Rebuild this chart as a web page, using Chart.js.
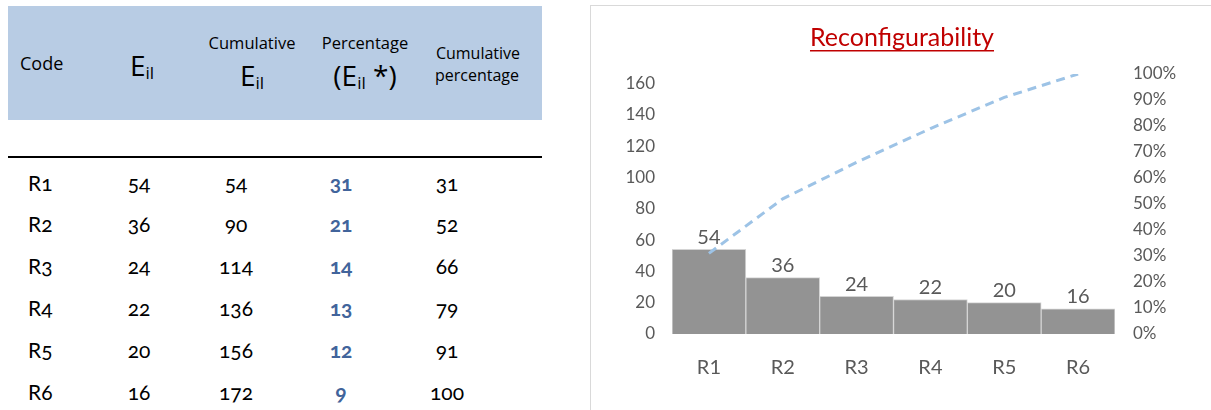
<!DOCTYPE html>
<html>
<head>
<meta charset="utf-8">
<script src="https://cdn.jsdelivr.net/npm/chart.js@4.4.1/dist/chart.umd.min.js"></script>
<style>
  html, body { margin: 0; padding: 0; background: #fff; }
  body { width: 1211px; height: 410px; position: relative; overflow: hidden; }
  .band { position: absolute; left: 8px; top: 6px; width: 534px; height: 114px; background: #b8cce4; }
  .rule { position: absolute; left: 8px; top: 156px; width: 534px; height: 2px; background: #000; }
  .t { position: absolute; white-space: nowrap; line-height: 1; transform: translate(-50%, -50%); color: #000; }
  .hd { font-family: "Open Sans", sans-serif; font-size: 16.5px; }
  .big { font-family: "Open Sans", sans-serif; font-size: 28px; }
  .big sub { font-size: 17px; vertical-align: -3px; }
  .cell { font-family: "Lato", sans-serif; font-size: 21px; font-variant-numeric: oldstyle-nums; }
  .cell.code { transform: translate(0, -50%); }
  .cell.blue { color: #41649b; font-weight: bold; }
  .frame { position: absolute; left: 590px; top: 5px; width: 700px; height: 500px;
           border-left: 1px solid #d9d9d9; border-top: 1px solid #d9d9d9; }
  #chart { position: absolute; left: 591px; top: 6px; }
</style>
</head>
<body>
<div class="band"></div>
<div class="rule"></div>

<div class="t hd" style="left:20px;top:63px;font-size:18px;transform:translate(0,-50%)">Code</div>
<div class="t big" style="left:142px;top:66px">E<sub>il</sub></div>
<div class="t hd" style="left:252px;top:43px">Cumulative</div>
<div class="t big" style="left:252px;top:76px">E<sub>il</sub></div>
<div class="t hd" style="left:365px;top:43px">Percentage</div>
<div class="t big" style="left:365px;top:76px">(E<sub>il</sub> *)</div>
<div class="t hd" style="left:478px;top:53px;font-size:16px">Cumulative</div>
<div class="t hd" style="left:477px;top:75px;font-size:16px">percentage</div>

<div id="rows"></div>

<div class="frame"></div>
<canvas id="chart" width="620" height="404"></canvas>

<script>
// Reconfigurability: index values per code, their running totals and shares
const categories = ['R1', 'R2', 'R3', 'R4', 'R5', 'R6'];
const eil = [54, 36, 24, 22, 20, 16];
const cumulativeEil = [54, 90, 114, 136, 156, 172];
const percentage = [31, 21, 14, 13, 12, 9];
const cumulativePercentage = [31, 52, 66, 79, 91, 100];
const countTicks = [0, 20, 40, 60, 80, 100, 120, 140, 160];
const percentTicks = [0, 10, 20, 30, 40, 50, 60, 70, 80, 90, 100];

// table body
const colX = [28, 139, 236, 341, 447];
const rowY = [182, 223, 265, 307, 349, 391];
const rows = document.getElementById('rows');
categories.forEach((code, i) => {
  const cells = [code, eil[i], cumulativeEil[i], percentage[i], cumulativePercentage[i]];
  cells.forEach((v, c) => {
    const d = document.createElement('div');
    d.className = 't cell' + (c === 0 ? ' code' : '') + (c === 3 ? ' blue' : '');
    d.style.left = colX[c] + 'px';
    d.style.top = rowY[i] + 'px';
    d.textContent = v;
    rows.appendChild(d);
  });
});

const FONT = 'Lato, sans-serif';
const GREY_TEXT = '#595959';

// title with underline and value labels above the bars
const decorations = {
  id: 'decorations',
  afterDatasetsDraw(chart) {
    const ctx = chart.ctx;
    ctx.save();
    // bar values
    const meta = chart.getDatasetMeta(0);
    ctx.font = '20px ' + FONT;
    ctx.fillStyle = GREY_TEXT;
    ctx.textAlign = 'center';
    ctx.textBaseline = 'bottom';
    meta.data.forEach((bar, i) => {
      ctx.fillText(String(chart.data.datasets[0].data[i]), bar.x, bar.y - 2);
    });
    // title
    const title = 'Reconfigurability';
    ctx.font = '25px ' + FONT;
    ctx.fillStyle = '#c00000';
    ctx.textBaseline = 'alphabetic';
    const cx = 311, base = 40;
    ctx.fillText(title, cx, base);
    const w = ctx.measureText(title).width;
    ctx.fillRect(cx - w / 2, base + 4, w, 1.5);
    ctx.restore();
  }
};

new Chart(document.getElementById('chart'), {
  type: 'bar',
  data: {
    labels: categories,
    datasets: [
      {
        type: 'bar',
        data: eil,
        yAxisID: 'y',
        backgroundColor: '#939393',
        borderColor: '#d4d4d4',
        borderWidth: 1,
        borderSkipped: 'bottom',
        barPercentage: 1,
        categoryPercentage: 1,
        order: 2
      },
      {
        type: 'line',
        data: cumulativePercentage,
        yAxisID: 'y2',
        borderColor: '#9dc3e6',
        borderWidth: 3,
        borderDash: [9, 6],
        pointRadius: 0,
        tension: 0,
        fill: false,
        order: 1
      }
    ]
  },
  options: {
    responsive: false,
    animation: false,
    layout: { padding: { top: 68, left: 0, right: 0, bottom: 0 } },
    plugins: { legend: { display: false }, tooltip: { enabled: false }, title: { display: false } },
    scales: {
      x: {
        offset: true,
        grid: { display: false, drawTicks: false },
        border: { display: false },
        ticks: { font: { family: FONT, size: 20 }, color: GREY_TEXT, padding: 22 },
        afterFit(s) { s.height = 76; }
      },
      y: {
        position: 'left',
        min: 0,
        max: 166,
        grid: { display: false, drawTicks: false },
        border: { display: false },
        ticks: { font: { family: FONT, size: 17 }, color: GREY_TEXT, padding: 17 },
        afterBuildTicks(s) { s.ticks = countTicks.map(v => ({ value: v })); },
        afterFit(s) { s.width = 81; }
      },
      y2: {
        position: 'right',
        min: 0,
        max: 100,
        grid: { display: false, drawTicks: false },
        border: { display: false },
        ticks: { font: { family: FONT, size: 17 }, color: GREY_TEXT, padding: 18,
                 callback: v => v + '%' },
        afterBuildTicks(s) { s.ticks = percentTicks.map(v => ({ value: v })); },
        afterFit(s) { s.width = 96; }
      }
    }
  },
  plugins: [decorations]
});
</script>
</body>
</html>
